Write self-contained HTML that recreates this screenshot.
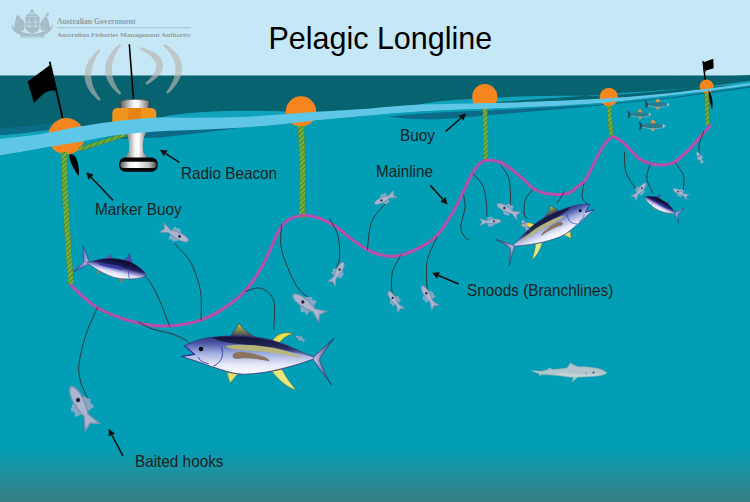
<!DOCTYPE html>
<html><head><meta charset="utf-8"><style>
html,body{margin:0;padding:0;background:#029eb6;overflow:hidden;}
svg{display:block;}
text{font-family:"Liberation Sans",sans-serif;}
</style></head><body>
<svg width="750" height="502" viewBox="0 0 750 502">
<defs>
<pattern id="ropep" patternUnits="userSpaceOnUse" width="3.4" height="3.4" patternTransform="rotate(-45)">
 <rect width="3.4" height="3.4" fill="#6cb640"/><rect width="3.4" height="1" fill="#567a30"/>
</pattern>
<linearGradient id="btm" x1="0" y1="0" x2="0" y2="1">
 <stop offset="0" stop-color="#029eb6"/><stop offset="0.1" stop-color="#029eb6"/>
 <stop offset="0.5" stop-color="#1d92a2"/><stop offset="1" stop-color="#357c81"/>
</linearGradient>
<linearGradient id="metal" x1="0" y1="0" x2="1" y2="0">
 <stop offset="0" stop-color="#5a5a5a"/><stop offset="0.45" stop-color="#f4f4f4"/><stop offset="0.6" stop-color="#ffffff"/><stop offset="1" stop-color="#6a6a6a"/>
</linearGradient>
<linearGradient id="metal2" x1="0" y1="0" x2="1" y2="0">
 <stop offset="0" stop-color="#555"/><stop offset="0.25" stop-color="#eee"/><stop offset="0.45" stop-color="#fff"/><stop offset="0.8" stop-color="#bbb"/><stop offset="1" stop-color="#444"/>
</linearGradient>
<linearGradient id="yfbody" x1="0" y1="0" x2="0" y2="1">
 <stop offset="0" stop-color="#2a3070"/><stop offset="0.2" stop-color="#4a5aa8"/><stop offset="0.45" stop-color="#a0acdf"/><stop offset="0.75" stop-color="#e6e9f8"/><stop offset="1" stop-color="#ffffff"/>
</linearGradient>
<linearGradient id="back" x1="0" y1="0" x2="0" y2="1">
 <stop offset="0" stop-color="#141438"/><stop offset="0.6" stop-color="#1c2050" stop-opacity="0.85"/><stop offset="1" stop-color="#2a3070" stop-opacity="0"/>
</linearGradient>
<linearGradient id="bfbody" x1="0" y1="0" x2="0" y2="1">
 <stop offset="0" stop-color="#060620"/><stop offset="0.38" stop-color="#1e1e60"/><stop offset="0.55" stop-color="#8080c8"/><stop offset="0.72" stop-color="#dcdcf4"/><stop offset="1" stop-color="#ffffff"/>
</linearGradient>
<linearGradient id="dfin" x1="0" y1="0" x2="0" y2="1">
 <stop offset="0" stop-color="#c8d040"/><stop offset="1" stop-color="#283060"/>
</linearGradient>
<linearGradient id="tail" x1="0" y1="0" x2="1" y2="0">
 <stop offset="0" stop-color="#c8c8e8"/><stop offset="1" stop-color="#3a3070"/>
</linearGradient>
<linearGradient id="tail2" x1="0" y1="0" x2="1" y2="0">
 <stop offset="0" stop-color="#c0c0ea"/><stop offset="1" stop-color="#4a4aa6"/>
</linearGradient>
</defs>
<rect x="0" y="0" width="750" height="502" fill="#029eb6"/>
<rect x="0" y="440" width="750" height="62" fill="url(#btm)"/>
<rect x="0" y="0" width="750" height="76" fill="#c6e7f5"/>
<rect x="0" y="75.5" width="750" height="60" fill="#07636f"/>
<path d="M0,120 L750,75 L750,90 L0,160 Z" fill="#07636f"/>
<path d="M0.0,155.5 C6.7,154.3 26.7,150.8 40.0,148.5 C53.3,146.2 66.7,144.1 80.0,141.8 C93.3,139.5 106.7,136.6 120.0,134.8 C133.3,133.0 146.7,132.0 160.0,131.2 C173.3,130.4 186.7,130.4 200.0,129.8 C213.3,129.2 226.7,128.7 240.0,127.8 C253.3,126.9 266.7,125.7 280.0,124.4 C293.3,123.1 305.0,121.5 320.0,120.0 C335.0,118.5 353.3,116.8 370.0,115.4 C386.7,114.0 403.3,112.4 420.0,111.4 C436.7,110.4 453.3,109.9 470.0,109.2 C486.7,108.5 498.3,108.5 520.0,107.5 C541.7,106.5 575.0,105.0 600.0,103.0 C625.0,101.0 645.0,98.5 670.0,95.6 C695.0,92.7 736.7,87.1 750.0,85.4 L750,200 L0,200 Z" fill="#029eb6"/>
<path d="M0.0,128.3 C4.2,128.0 16.7,127.0 25.0,126.3 C33.3,125.5 40.8,124.6 50.0,123.8 C59.2,123.0 75.0,121.9 80.0,121.5 L80,130 L0,142 Z" fill="#0b6c87"/>
<path d="M0.0,135.3 C4.2,134.9 16.7,133.9 25.0,133.0 C33.3,132.1 40.8,131.2 50.0,130.0 C59.2,128.8 75.0,126.7 80.0,126.0 L80,134 L0,146 Z" fill="#12a3bc"/>
<path d="M150.0,120.0 C153.3,119.2 161.7,116.8 170.0,115.5 C178.3,114.2 188.3,113.0 200.0,112.2 C211.7,111.4 226.7,110.9 240.0,110.7 C253.3,110.5 268.3,110.9 280.0,111.2 C291.7,111.5 305.0,112.4 310.0,112.6 L310,118 L150,124 Z" fill="#12a3bc"/>
<path d="M412.0,106.0 C416.7,105.2 428.7,102.5 440.0,101.3 C451.3,100.0 466.7,99.3 480.0,98.5 C493.3,97.7 506.7,97.0 520.0,96.5 C533.3,96.0 546.7,96.0 560.0,95.8 C573.3,95.6 586.7,96.1 600.0,95.6 C613.3,95.1 628.3,93.9 640.0,93.0 C651.7,92.1 660.0,91.2 670.0,90.3 C680.0,89.3 686.7,88.8 700.0,87.3 C713.3,85.8 741.7,82.0 750.0,81.0 L750,84 L412,108 Z" fill="#12a3bc"/>
<path d="M120,132 L160,128 L200,126 L240,124 L240,127.8 L200,133 L160,137.5 L120,139 Z" fill="#0b6a88"/>
<path d="M388,116.5 C410,114 430,113 450,112 C480,111 505,110 520,109 L600,104.5 L670,97.4 L750,86.2 L750,87.8 L670,98.6 L600,105.6 L520,112.4 C490,115 460,118 440,119.2 C420,119.6 405,119.2 388,116.5 Z" fill="#0b6a88"/>
<path d="M98.7,49.3 L96.5,51.3 L94.6,53.3 L92.7,55.4 L91.1,57.4 L89.6,59.6 L88.2,61.7 L87.1,64.0 L86.2,66.2 L85.4,68.5 L84.9,70.8 L84.6,73.2 L84.5,75.5 L84.6,77.9 L85.0,80.2 L85.6,82.5 L86.3,84.7 L87.3,86.9 L88.5,89.1 L89.9,91.2 L91.4,93.2 L93.2,95.2 L95.0,97.1 L97.0,98.9 L99.2,100.8 L100.8,99.2 L99.1,97.1 L97.6,94.9 L96.3,92.8 L95.2,90.7 L94.2,88.7 L93.4,86.7 L92.7,84.7 L92.2,82.8 L91.8,80.9 L91.5,79.1 L91.3,77.3 L91.3,75.5 L91.3,73.6 L91.4,71.8 L91.7,69.9 L92.1,68.0 L92.6,66.0 L93.2,64.0 L94.0,61.9 L94.9,59.8 L96.0,57.6 L97.3,55.3 L98.7,53.1 L100.3,50.7 Z" fill="#b8b4b0" opacity="0.66"/>
<path d="M119.7,43.7 L117.5,45.7 L115.5,47.7 L113.6,49.7 L111.9,51.8 L110.4,53.8 L109.0,56.0 L107.8,58.2 L106.8,60.4 L106.1,62.7 L105.5,65.0 L105.2,67.3 L105.0,69.6 L105.2,72.0 L105.5,74.3 L106.1,76.6 L106.9,78.8 L107.8,81.0 L109.0,83.1 L110.4,85.2 L111.9,87.2 L113.6,89.2 L115.5,91.1 L117.5,92.9 L119.7,94.8 L121.3,93.2 L119.6,91.1 L118.1,88.9 L116.8,86.8 L115.7,84.7 L114.7,82.7 L113.9,80.7 L113.2,78.8 L112.7,76.9 L112.3,75.0 L112.1,73.2 L111.9,71.4 L111.9,69.6 L111.9,67.8 L112.1,66.0 L112.3,64.2 L112.7,62.3 L113.3,60.3 L113.9,58.3 L114.7,56.3 L115.7,54.2 L116.8,52.0 L118.1,49.8 L119.6,47.5 L121.3,45.3 Z" fill="#b8b4b0" opacity="0.66"/>
<path d="M139.6,49.0 L142.3,50.5 L144.8,51.9 L147.0,53.4 L149.0,54.8 L150.7,56.2 L152.1,57.6 L153.3,58.9 L154.3,60.2 L155.0,61.4 L155.6,62.5 L155.9,63.6 L156.1,64.6 L156.3,65.6 L156.2,66.6 L156.1,67.8 L155.8,69.0 L155.3,70.4 L154.6,72.0 L153.7,73.6 L152.5,75.4 L151.1,77.2 L149.4,79.1 L147.5,81.1 L145.3,83.1 L146.7,84.9 L149.3,83.3 L151.7,81.7 L153.8,80.0 L155.8,78.4 L157.6,76.7 L159.1,75.0 L160.5,73.3 L161.5,71.4 L162.3,69.5 L162.8,67.5 L163.0,65.5 L162.9,63.4 L162.3,61.5 L161.5,59.6 L160.4,57.8 L159.0,56.2 L157.4,54.8 L155.6,53.4 L153.6,52.1 L151.3,51.0 L148.9,49.9 L146.3,48.9 L143.4,47.9 L140.4,47.0 Z" fill="#b8b4b0" opacity="0.66"/>
<path d="M163.4,45.9 L165.4,47.8 L167.2,49.7 L168.8,51.5 L170.2,53.4 L171.4,55.2 L172.4,57.0 L173.3,58.8 L174.0,60.5 L174.5,62.2 L174.9,63.9 L175.2,65.5 L175.4,67.2 L175.4,68.9 L175.3,70.7 L175.1,72.5 L174.8,74.4 L174.3,76.3 L173.7,78.4 L172.9,80.5 L171.9,82.7 L170.8,85.0 L169.4,87.4 L167.9,89.8 L166.2,92.3 L167.8,93.7 L170.1,91.6 L172.2,89.4 L174.1,87.2 L175.8,85.1 L177.3,82.9 L178.7,80.6 L179.8,78.4 L180.7,76.1 L181.5,73.8 L181.9,71.4 L182.2,69.1 L182.1,66.8 L181.9,64.5 L181.4,62.2 L180.6,60.1 L179.6,57.9 L178.4,55.9 L177.0,54.0 L175.3,52.1 L173.5,50.4 L171.6,48.7 L169.4,47.1 L167.1,45.6 L164.6,44.1 Z" fill="#b8b4b0" opacity="0.66"/>
<line x1="49.7" y1="61.7" x2="62.6" y2="118" stroke="#000" stroke-width="1.8"/>
<path d="M27.7,81.5 L50,65 L55.6,90.6 C50,90 45,92 42,95 L34,103.1 Z" fill="#000"/>
<circle cx="66.4" cy="136.3" r="18.2" fill="#f5861f"/>
<circle cx="301" cy="111.5" r="15.2" fill="#f5861f"/>
<circle cx="484.8" cy="96.7" r="12.6" fill="#f5861f"/>
<circle cx="608.8" cy="97" r="9.2" fill="#f5861f"/>
<line x1="703" y1="61" x2="706" y2="86" stroke="#000" stroke-width="1.5"/>
<path d="M702.8,62.5 L713.3,58.8 L713.7,68.2 L706.3,70.4 L704,73 Z" fill="#000"/>
<circle cx="706.6" cy="86.3" r="6.9" fill="#f5861f"/>
<path d="M79,149.5 L126,134.5" stroke="#557f30" stroke-width="4"/>
<path d="M79,149.5 L126,134.5" stroke="url(#ropep)" stroke-width="3.2"/>
<line x1="129.3" y1="44.3" x2="133.6" y2="101" stroke="#000" stroke-width="1.6"/>
<path d="M120,100.5 Q134.5,98 149.5,100.5 L148,110 L121,110 Z" fill="url(#metal)" stroke="#333" stroke-width="0.6"/>
<rect x="112.3" y="108" width="44" height="23.5" rx="5" fill="#f0941e"/>
<rect x="128" y="108" width="13" height="23.5" fill="#e07d10" opacity="0.7"/>
<path d="M125.5,131 L146.5,131 C143,138 142,146 143.5,153 L148,158 L124,158 L128.5,153 C130,146 129,138 125.5,131 Z" fill="url(#metal)"/>
<rect x="119.2" y="157.6" width="38.4" height="14.2" rx="6" fill="#050505"/>
<rect x="120.2" y="161.8" width="36.4" height="6.2" rx="3" fill="url(#metal2)"/>
<path d="M0.0,138.7 C6.7,137.9 26.7,136.2 40.0,134.2 C53.3,132.2 66.7,128.7 80.0,126.5 C93.3,124.3 106.7,122.3 120.0,120.8 C133.3,119.3 146.7,118.1 160.0,117.6 C173.3,117.1 186.7,117.9 200.0,117.8 C213.3,117.7 226.7,117.5 240.0,117.0 C253.3,116.5 266.7,115.5 280.0,114.6 C293.3,113.7 305.0,112.6 320.0,111.6 C335.0,110.6 353.3,109.6 370.0,108.4 C386.7,107.2 403.3,105.4 420.0,104.6 C436.7,103.8 453.3,103.8 470.0,103.4 C486.7,103.0 498.3,103.0 520.0,102.2 C541.7,101.4 575.0,100.3 600.0,98.8 C625.0,97.3 645.0,95.6 670.0,93.0 C695.0,90.4 736.7,84.7 750.0,83.0 L750.0,85.4 C736.7,87.1 695.0,92.7 670.0,95.6 C645.0,98.5 625.0,101.0 600.0,103.0 C575.0,105.0 541.7,106.5 520.0,107.5 C498.3,108.5 486.7,108.5 470.0,109.2 C453.3,109.9 436.7,110.4 420.0,111.4 C403.3,112.4 386.7,114.0 370.0,115.4 C353.3,116.8 335.0,118.5 320.0,120.0 C305.0,121.5 293.3,123.1 280.0,124.4 C266.7,125.7 253.3,126.9 240.0,127.8 C226.7,128.7 213.3,129.2 200.0,129.8 C186.7,130.4 173.3,130.4 160.0,131.2 C146.7,132.0 133.3,133.0 120.0,134.8 C106.7,136.6 93.3,139.5 80.0,141.8 C66.7,144.1 53.3,146.2 40.0,148.5 C26.7,150.8 6.7,154.3 0.0,155.5 Z" fill="#5ec7e7"/>
<path d="M64.0,152.0 C64.2,160.0 64.8,183.7 65.5,200.0 C66.2,216.3 67.6,236.0 68.5,250.0 C69.4,264.0 70.6,278.3 71.0,284.0" fill="none" stroke="#557f30" stroke-width="6.0" stroke-linecap="butt"/><path d="M64.0,152.0 C64.2,160.0 64.8,183.7 65.5,200.0 C66.2,216.3 67.6,236.0 68.5,250.0 C69.4,264.0 70.6,278.3 71.0,284.0" fill="none" stroke="url(#ropep)" stroke-width="5.2" stroke-linecap="butt"/>
<path d="M301.0,126.0 C301.2,133.3 302.3,154.7 302.5,170.0 C302.7,185.3 302.1,210.0 302.0,218.0" fill="none" stroke="#557f30" stroke-width="6.2" stroke-linecap="butt"/><path d="M301.0,126.0 C301.2,133.3 302.3,154.7 302.5,170.0 C302.7,185.3 302.1,210.0 302.0,218.0" fill="none" stroke="url(#ropep)" stroke-width="5.4" stroke-linecap="butt"/>
<path d="M485.0,109.0 C485.1,113.3 485.4,126.2 485.5,135.0 C485.6,143.8 485.8,157.5 485.8,162.0" fill="none" stroke="#557f30" stroke-width="5.0" stroke-linecap="butt"/><path d="M485.0,109.0 C485.1,113.3 485.4,126.2 485.5,135.0 C485.6,143.8 485.8,157.5 485.8,162.0" fill="none" stroke="url(#ropep)" stroke-width="4.2" stroke-linecap="butt"/>
<path d="M609.0,106.0 C609.2,108.3 609.6,115.0 610.0,120.0 C610.4,125.0 611.2,133.3 611.5,136.0" fill="none" stroke="#557f30" stroke-width="4.6" stroke-linecap="butt"/><path d="M609.0,106.0 C609.2,108.3 609.6,115.0 610.0,120.0 C610.4,125.0 611.2,133.3 611.5,136.0" fill="none" stroke="url(#ropep)" stroke-width="3.8" stroke-linecap="butt"/>
<path d="M706.5,93.0 C706.6,95.8 706.8,104.7 707.0,110.0 C707.2,115.3 707.4,122.5 707.5,125.0" fill="none" stroke="#557f30" stroke-width="4.2" stroke-linecap="butt"/><path d="M706.5,93.0 C706.6,95.8 706.8,104.7 707.0,110.0 C707.2,115.3 707.4,122.5 707.5,125.0" fill="none" stroke="url(#ropep)" stroke-width="3.4" stroke-linecap="butt"/>
<path d="M69.3,154.5 C73.5,153.5 76.5,157 77.8,163 C79,168.5 79.2,173 78.6,176 C75.5,172 71.5,165 69.8,159 Z" fill="#000"/>
<path d="M708.5,90 C712,95 713.5,102 712,110 C710.5,104 709,98 708.5,90 Z" fill="#000"/>
<path d="M70.0,284.3 C74.3,288.1 85.7,300.8 96.0,307.0 C106.3,313.2 120.0,318.2 132.0,321.4 C144.0,324.6 156.0,326.4 168.0,326.0 C180.0,325.6 192.0,323.9 204.0,318.9 C216.0,313.9 230.4,304.6 240.0,296.0 C249.6,287.4 255.0,278.5 261.6,267.4 C268.2,256.3 274.8,237.7 279.6,229.6 C284.4,221.5 286.2,221.2 290.4,218.8 C294.6,216.4 300.2,215.4 304.8,215.2 C309.4,215.0 312.8,215.9 318.0,217.8 C323.2,219.7 330.0,222.9 336.0,226.8 C342.0,230.7 348.0,236.8 354.0,241.0 C360.0,245.2 365.4,249.4 372.0,252.0 C378.6,254.6 386.4,256.6 393.6,256.3 C400.8,256.0 407.8,253.4 415.0,250.0 C422.2,246.6 430.2,242.7 436.8,235.8 C443.4,228.9 449.7,217.6 454.8,208.8 C459.9,200.0 464.1,189.6 467.5,183.0 C470.9,176.4 472.5,172.6 475.0,169.0 C477.5,165.4 479.9,163.0 482.4,161.5 C484.9,160.0 486.9,160.0 490.0,160.2 C493.1,160.4 497.3,160.9 501.0,162.5 C504.7,164.1 508.5,167.2 512.3,170.0 C516.0,172.8 519.8,176.1 523.5,179.3 C527.2,182.6 531.0,187.2 534.7,189.5 C538.4,191.8 542.2,192.5 545.9,193.3 C549.6,194.2 553.3,194.6 557.0,194.6 C560.7,194.6 564.8,194.7 568.3,193.3 C571.8,191.9 575.5,188.1 578.2,186.1 C580.9,184.1 582.5,184.1 584.6,181.3 C586.7,178.5 588.9,173.5 591.0,169.4 C593.1,165.3 595.2,160.6 597.3,156.6 C599.4,152.6 601.6,148.6 603.7,145.5 C605.8,142.4 608.1,139.7 610.0,138.3 C611.9,136.9 612.7,136.5 614.8,137.2 C616.9,137.9 620.1,140.1 622.8,142.3 C625.5,144.5 628.0,147.5 630.8,150.3 C633.6,153.1 636.3,156.7 639.6,158.9 C642.9,161.1 647.0,162.7 650.7,163.7 C654.4,164.7 658.1,165.1 661.8,165.0 C665.5,164.9 669.5,164.5 673.0,162.9 C676.5,161.3 679.0,158.8 682.5,155.7 C686.0,152.6 690.2,148.3 693.7,144.6 C697.2,140.9 700.3,136.7 703.2,133.4 C706.1,130.1 709.9,126.2 711.2,124.7" fill="none" stroke="#b74fab" stroke-width="3.1"/>
<path d="M97.6,307.3 C95.8,311.6 89.6,323.6 86.5,333.0 C83.4,342.4 79.9,355.4 79.0,363.7 C78.1,372.0 79.3,376.7 81.0,383.0 C82.7,389.3 87.9,398.2 89.3,401.3" fill="none" stroke="#3a2a2a" stroke-width="0.9"/>
<path d="M145.0,276.0 C146.2,277.5 149.4,280.6 152.0,285.0 C154.6,289.4 157.4,295.3 160.4,302.3 C163.4,309.3 168.4,322.9 170.0,327.0" fill="none" stroke="#3a2a2a" stroke-width="0.9"/>
<path d="M138.0,321.8 C140.3,323.0 146.3,326.8 152.0,328.8 C157.7,330.8 166.4,332.1 172.0,334.0 C177.6,335.9 182.3,338.1 185.5,340.0 C188.7,341.9 190.1,344.6 191.0,345.5" fill="none" stroke="#3a2a2a" stroke-width="0.9"/>
<path d="M174.4,243.7 C177.2,246.9 186.7,254.8 191.0,262.8 C195.3,270.8 198.8,282.0 200.5,291.5 C202.2,301.0 200.9,315.2 201.0,320.0" fill="none" stroke="#3a2a2a" stroke-width="0.9"/>
<path d="M245.0,291.5 C247.7,291.0 256.2,286.7 261.0,288.3 C265.8,289.9 271.7,294.1 273.8,301.0 C275.9,307.9 273.8,324.9 273.8,329.7" fill="none" stroke="#3a2a2a" stroke-width="0.9"/>
<path d="M281.7,224.6 C281.7,228.8 279.3,239.9 281.7,250.0 C284.1,260.1 291.2,276.8 296.0,285.0 C300.8,293.2 308.0,297.0 310.4,299.4" fill="none" stroke="#3a2a2a" stroke-width="0.9"/>
<path d="M329.8,219.0 C331.2,221.8 336.4,229.2 338.0,235.7 C339.6,242.2 339.9,252.4 339.5,258.0 C339.1,263.6 336.0,267.3 335.3,269.2" fill="none" stroke="#3a2a2a" stroke-width="0.9"/>
<path d="M385.5,203.7 C383.2,206.7 374.6,214.1 371.6,221.8 C368.6,229.5 368.1,245.0 367.4,249.7" fill="none" stroke="#3a2a2a" stroke-width="0.9"/>
<path d="M400.8,255.3 C399.4,258.1 394.0,266.0 392.5,272.0 C391.0,278.0 391.3,287.3 392.0,291.5 C392.7,295.7 395.9,296.1 396.7,297.0" fill="none" stroke="#3a2a2a" stroke-width="0.9"/>
<path d="M437.0,237.0 C435.4,241.0 428.9,252.2 427.3,260.8 C425.7,269.4 426.6,283.1 427.3,288.7 C428.0,294.3 430.8,293.4 431.5,294.3" fill="none" stroke="#3a2a2a" stroke-width="0.9"/>
<path d="M463.6,195.3 C463.8,197.4 465.5,202.8 465.0,207.9 C464.5,213.0 461.0,221.3 460.8,226.0 C460.6,230.7 462.6,233.7 464.0,236.0 C465.4,238.3 468.2,239.3 469.1,240.0" fill="none" stroke="#3a2a2a" stroke-width="0.9"/>
<path d="M473.0,173.7 C474.6,175.6 480.2,180.6 482.4,184.9 C484.6,189.2 485.2,194.5 486.0,199.8 C486.8,205.1 486.8,213.8 487.0,216.6" fill="none" stroke="#3a2a2a" stroke-width="0.9"/>
<path d="M500.0,164.3 C501.4,166.5 506.8,172.7 508.5,177.4 C510.2,182.1 510.1,187.5 510.4,192.3 C510.7,197.1 510.4,204.0 510.4,206.3" fill="none" stroke="#3a2a2a" stroke-width="0.9"/>
<path d="M532.8,189.5 C531.5,191.2 526.7,195.6 525.3,199.8 C523.9,204.0 523.9,211.6 524.4,214.7 C524.9,217.8 527.4,217.9 528.0,218.5" fill="none" stroke="#3a2a2a" stroke-width="0.9"/>
<path d="M564.5,191.4 C563.2,193.4 558.2,201.5 557.0,203.5" fill="none" stroke="#3a2a2a" stroke-width="0.9"/>
<path d="M584.0,183.0 C583.7,185.5 581.5,194.3 582.3,198.0 C583.1,201.7 587.7,204.2 588.8,205.4" fill="none" stroke="#3a2a2a" stroke-width="0.9"/>
<path d="M624.4,151.7 C624.7,155.1 624.1,166.3 626.0,172.4 C627.9,178.5 634.0,185.7 635.6,188.4" fill="none" stroke="#3a2a2a" stroke-width="0.9"/>
<path d="M650.0,164.4 C649.5,166.8 646.3,174.0 646.8,178.8 C647.3,183.6 652.0,190.6 653.0,193.0" fill="none" stroke="#3a2a2a" stroke-width="0.9"/>
<path d="M675.4,162.9 C676.7,165.0 682.1,171.1 683.4,175.6 C684.7,180.1 683.4,187.6 683.4,190.0" fill="none" stroke="#3a2a2a" stroke-width="0.9"/>
<path d="M704.0,131.0 C703.2,133.1 700.1,140.0 699.3,143.7 C698.5,147.4 699.3,151.7 699.3,153.3" fill="none" stroke="#3a2a2a" stroke-width="0.9"/>
<g transform="translate(181.3,356.8) rotate(0.35) scale(0.998,0.998)"><path d="M48,-19 L57.7,-34 C62,-28 68,-23 75,-19.5 Z" fill="url(#dfin)" stroke="#2a2a60" stroke-width="0.6"/><path d="M91,-16 C95,-24 104,-26 112,-24 C105,-22 100,-18 98,-14 Z" fill="#e8e050" stroke="#806020" stroke-width="0.5"/><path d="M45.7,15.5 L49,26 L57,16.5 Z" fill="#e0e070" stroke="#807020" stroke-width="0.5"/><path d="M91,14 C97,22 106,30 115,32.5 C110,26 104,19 101,12 Z" fill="#e8e880" stroke="#807020" stroke-width="0.5"/><path d="M132,0 L153.1,-19.8 C146,-10 140,-3 138.4,2.5 C141,10 146,20 150.7,27.4 L132,2 Z" fill="url(#tail)" stroke="#302a60" stroke-width="0.6"/><path d="M3.1,-11.1 C5.2,-12.0 11.6,-15.1 16.0,-16.5 C20.4,-17.9 23.3,-18.8 29.6,-19.6 C35.9,-20.4 45.4,-21.2 53.7,-21.2 C62.0,-21.2 71.4,-20.8 79.4,-19.5 C87.5,-18.2 94.5,-16.1 102.0,-13.5 C109.5,-10.8 119.5,-5.9 124.7,-3.6 C129.9,-1.3 133.0,-1.1 133.0,0.2 C133.0,1.5 129.9,2.4 124.7,4.2 C119.5,6.0 109.5,9.1 102.0,11.0 C94.5,12.9 87.0,14.7 79.4,15.6 C71.9,16.6 64.3,17.5 56.7,16.7 C49.1,15.9 40.8,12.8 34.0,10.8 C27.2,8.8 21.7,6.5 16.0,4.6 C10.3,2.7 2.7,0.5 0.0,-0.3 L13.4,-2.6 Z" fill="url(#yfbody)" stroke="#3a2a70" stroke-width="0.8"/><path d="M30,-19.5 C50,-21.6 70,-21 90,-17 C105,-13 118,-7 130,-0.5 C112,-5 92,-10 70,-12 C55,-13 42,-14 30,-19.5 Z" fill="url(#back)"/><path d="M44,-11 C60,-14 85,-12 100,-8 C110,-5 117,-2 123,1 C110,-2 90,-5.5 70,-6.5 C55,-7.5 48,-7.5 44,-11 Z" fill="#b8b676" opacity="0.95"/><path d="M52,-3 C55,-7 65,-6 78,-2 C85,0 89,2 88,4 C78,2 66,0 58,1.5 C53,2.5 50,0 52,-3 Z" fill="#8a7560"/><path d="M40.3,-10.5 C41.5,-5 41.5,0 40,2 C38,6 35,8 32,9" fill="none" stroke="#3434a8" stroke-width="0.9"/><path d="M17,0.1 C18,3 20,5.2 27.7,6.8" fill="none" stroke="#3434a8" stroke-width="0.9"/><circle cx="19.7" cy="-8" r="2.2" fill="#000"/><path d="M3.1,-11.1 L13.4,-2.6 L0,-0.3" fill="none" stroke="#3434a8" stroke-width="1.1"/></g>
<g transform="translate(594.4,210) rotate(156.44) scale(0.668,-0.634)"><path d="M48,-19 L57.7,-34 C62,-28 68,-23 75,-19.5 Z" fill="url(#dfin)" stroke="#2a2a60" stroke-width="0.6"/><path d="M91,-16 C95,-24 104,-26 112,-24 C105,-22 100,-18 98,-14 Z" fill="#e8e050" stroke="#806020" stroke-width="0.5"/><path d="M45.7,15.5 L49,26 L57,16.5 Z" fill="#e0e070" stroke="#807020" stroke-width="0.5"/><path d="M91,14 C97,22 106,30 115,32.5 C110,26 104,19 101,12 Z" fill="#e8e880" stroke="#807020" stroke-width="0.5"/><path d="M132,0 L153.1,-19.8 C146,-10 140,-3 138.4,2.5 C141,10 146,20 150.7,27.4 L132,2 Z" fill="url(#tail)" stroke="#302a60" stroke-width="0.6"/><path d="M3.1,-11.1 C5.2,-12.0 11.6,-15.1 16.0,-16.5 C20.4,-17.9 23.3,-18.8 29.6,-19.6 C35.9,-20.4 45.4,-21.2 53.7,-21.2 C62.0,-21.2 71.4,-20.8 79.4,-19.5 C87.5,-18.2 94.5,-16.1 102.0,-13.5 C109.5,-10.8 119.5,-5.9 124.7,-3.6 C129.9,-1.3 133.0,-1.1 133.0,0.2 C133.0,1.5 129.9,2.4 124.7,4.2 C119.5,6.0 109.5,9.1 102.0,11.0 C94.5,12.9 87.0,14.7 79.4,15.6 C71.9,16.6 64.3,17.5 56.7,16.7 C49.1,15.9 40.8,12.8 34.0,10.8 C27.2,8.8 21.7,6.5 16.0,4.6 C10.3,2.7 2.7,0.5 0.0,-0.3 L13.4,-2.6 Z" fill="url(#yfbody)" stroke="#3a2a70" stroke-width="0.8"/><path d="M30,-19.5 C50,-21.6 70,-21 90,-17 C105,-13 118,-7 130,-0.5 C112,-5 92,-10 70,-12 C55,-13 42,-14 30,-19.5 Z" fill="url(#back)"/><path d="M44,-11 C60,-14 85,-12 100,-8 C110,-5 117,-2 123,1 C110,-2 90,-5.5 70,-6.5 C55,-7.5 48,-7.5 44,-11 Z" fill="#b8b676" opacity="0.95"/><path d="M52,-3 C55,-7 65,-6 78,-2 C85,0 89,2 88,4 C78,2 66,0 58,1.5 C53,2.5 50,0 52,-3 Z" fill="#8a7560"/><path d="M40.3,-10.5 C41.5,-5 41.5,0 40,2 C38,6 35,8 32,9" fill="none" stroke="#3434a8" stroke-width="0.9"/><path d="M17,0.1 C18,3 20,5.2 27.7,6.8" fill="none" stroke="#3434a8" stroke-width="0.9"/><circle cx="19.7" cy="-8" r="2.2" fill="#000"/><path d="M3.1,-11.1 L13.4,-2.6 L0,-0.3" fill="none" stroke="#3434a8" stroke-width="1.1"/></g>
<g transform="translate(145.6,276) rotate(-166.79) scale(0.454,-0.509)"><path d="M34,-18 L47,-36 C46,-28 50,-22 58,-19 Z" fill="#4a4aa8" stroke="#302a70" stroke-width="0.6"/><path d="M80,-17 L86,-27 L93,-15 Z" fill="#5a5ab4" stroke="#302a70" stroke-width="0.5"/><path d="M45,15 L50,24 L56,16 Z" fill="#a07840"/><path d="M95,10 L104,19 L108,8 Z" fill="#a07840"/><path d="M128,-1.5 L149,-30 C147,-18 143,-8 140,0 C145,8 151,15 156,24 L128,2.5 Z" fill="url(#tail2)" stroke="#302a70" stroke-width="1"/><path d="M0.0,-0.5 C-1.6,-2.3 0.1,-2.8 2.0,-4.5 C3.9,-6.2 6.1,-8.3 11.4,-10.7 C16.7,-13.1 26.4,-17.1 34.0,-18.7 C41.5,-20.3 49.1,-20.2 56.7,-20.2 C64.3,-20.2 71.9,-19.9 79.4,-18.7 C87.0,-17.5 94.5,-15.7 102.0,-13.0 C109.5,-10.3 119.5,-5.1 124.7,-2.8 C129.9,-0.5 133.0,-0.5 133.0,0.6 C133.0,1.7 129.9,2.3 124.7,4.0 C119.5,5.7 109.5,8.9 102.0,10.8 C94.5,12.7 87.0,14.5 79.4,15.4 C71.9,16.4 64.3,16.9 56.7,16.5 C49.1,16.1 41.5,14.7 34.0,13.0 C26.4,11.3 17.1,8.6 11.4,6.3 C5.7,4.0 1.6,1.3 0.0,-0.5 Z" fill="url(#bfbody)" stroke="#3a2a70" stroke-width="1"/><path d="M50,-6 C70,-9 95,-6 110,-2 C100,1 80,0 54,-1 Z" fill="#3838a0"/><path d="M36,-16 C40,-7 40,4 33,12" fill="none" stroke="#3030a0" stroke-width="1.2"/></g>
<g transform="translate(644.5,197.5) rotate(27.07) scale(0.268,0.289)"><path d="M34,-18 L47,-36 C46,-28 50,-22 58,-19 Z" fill="#4a4aa8" stroke="#302a70" stroke-width="0.6"/><path d="M80,-17 L86,-27 L93,-15 Z" fill="#5a5ab4" stroke="#302a70" stroke-width="0.5"/><path d="M45,15 L50,24 L56,16 Z" fill="#a07840"/><path d="M95,10 L104,19 L108,8 Z" fill="#a07840"/><path d="M128,-1.5 L149,-30 C147,-18 143,-8 140,0 C145,8 151,15 156,24 L128,2.5 Z" fill="url(#tail2)" stroke="#302a70" stroke-width="1"/><path d="M0.0,-0.5 C-1.6,-2.3 0.1,-2.8 2.0,-4.5 C3.9,-6.2 6.1,-8.3 11.4,-10.7 C16.7,-13.1 26.4,-17.1 34.0,-18.7 C41.5,-20.3 49.1,-20.2 56.7,-20.2 C64.3,-20.2 71.9,-19.9 79.4,-18.7 C87.0,-17.5 94.5,-15.7 102.0,-13.0 C109.5,-10.3 119.5,-5.1 124.7,-2.8 C129.9,-0.5 133.0,-0.5 133.0,0.6 C133.0,1.7 129.9,2.3 124.7,4.0 C119.5,5.7 109.5,8.9 102.0,10.8 C94.5,12.7 87.0,14.5 79.4,15.4 C71.9,16.4 64.3,16.9 56.7,16.5 C49.1,16.1 41.5,14.7 34.0,13.0 C26.4,11.3 17.1,8.6 11.4,6.3 C5.7,4.0 1.6,1.3 0.0,-0.5 Z" fill="url(#bfbody)" stroke="#3a2a70" stroke-width="1"/><path d="M50,-6 C70,-9 95,-6 110,-2 C100,1 80,0 54,-1 Z" fill="#3838a0"/><path d="M36,-16 C40,-7 40,4 33,12" fill="none" stroke="#3030a0" stroke-width="1.2"/></g>
<g transform="translate(188.5,241) rotate(-153) scale(1.25)"><path d="M7,-3 L11,-6.2 L12,-5 L15,-6 L15.5,-2 Z M8,3 L11,6 L13,4.6 L15,5.6 L15.5,2 Z" fill="#a2accb" opacity="0.8"/><path d="M0,0 C1.5,-3 9,-3.6 17,-1.2 L24,-4.2 L21.5,0 L24,4.2 L17,1.2 C9,3.6 1.5,3 0,0 Z" fill="#abb5cf" stroke="#8290b0" stroke-width="0.7"/><circle cx="8" cy="0" r="1.1" fill="#223"/></g>
<g transform="translate(292.9,294.6) rotate(36.7) scale(1.54)"><path d="M7,-3 L11,-6.2 L12,-5 L15,-6 L15.5,-2 Z M8,3 L11,6 L13,4.6 L15,5.6 L15.5,2 Z" fill="#a2accb" opacity="0.8"/><path d="M0,0 C1.5,-3 9,-3.6 17,-1.2 L24,-4.2 L21.5,0 L24,4.2 L17,1.2 C9,3.6 1.5,3 0,0 Z" fill="#abb5cf" stroke="#8290b0" stroke-width="0.7"/><circle cx="8" cy="0" r="1.1" fill="#223"/></g>
<g transform="translate(343.7,262.2) rotate(119.7) scale(1.04)"><path d="M7,-3 L11,-6.2 L12,-5 L15,-6 L15.5,-2 Z M8,3 L11,6 L13,4.6 L15,5.6 L15.5,2 Z" fill="#a2accb" opacity="0.8"/><path d="M0,0 C1.5,-3 9,-3.6 17,-1.2 L24,-4.2 L21.5,0 L24,4.2 L17,1.2 C9,3.6 1.5,3 0,0 Z" fill="#abb5cf" stroke="#8290b0" stroke-width="0.7"/><circle cx="8" cy="0" r="1.1" fill="#223"/></g>
<g transform="translate(374.4,203.7) rotate(-24.9) scale(0.96)"><path d="M7,-3 L11,-6.2 L12,-5 L15,-6 L15.5,-2 Z M8,3 L11,6 L13,4.6 L15,5.6 L15.5,2 Z" fill="#a2accb" opacity="0.8"/><path d="M0,0 C1.5,-3 9,-3.6 17,-1.2 L24,-4.2 L21.5,0 L24,4.2 L17,1.2 C9,3.6 1.5,3 0,0 Z" fill="#abb5cf" stroke="#8290b0" stroke-width="0.7"/><circle cx="8" cy="0" r="1.1" fill="#223"/></g>
<g transform="translate(388.3,291.5) rotate(55.4) scale(0.96)"><path d="M7,-3 L11,-6.2 L12,-5 L15,-6 L15.5,-2 Z M8,3 L11,6 L13,4.6 L15,5.6 L15.5,2 Z" fill="#a2accb" opacity="0.8"/><path d="M0,0 C1.5,-3 9,-3.6 17,-1.2 L24,-4.2 L21.5,0 L24,4.2 L17,1.2 C9,3.6 1.5,3 0,0 Z" fill="#abb5cf" stroke="#8290b0" stroke-width="0.7"/><circle cx="8" cy="0" r="1.1" fill="#223"/></g>
<g transform="translate(421.7,285.9) rotate(57.9) scale(1.08)"><path d="M7,-3 L11,-6.2 L12,-5 L15,-6 L15.5,-2 Z M8,3 L11,6 L13,4.6 L15,5.6 L15.5,2 Z" fill="#a2accb" opacity="0.8"/><path d="M0,0 C1.5,-3 9,-3.6 17,-1.2 L24,-4.2 L21.5,0 L24,4.2 L17,1.2 C9,3.6 1.5,3 0,0 Z" fill="#abb5cf" stroke="#8290b0" stroke-width="0.7"/><circle cx="8" cy="0" r="1.1" fill="#223"/></g>
<g transform="translate(70.8,386.5) rotate(62) scale(1.92)"><path d="M7,-3 L11,-6.2 L12,-5 L15,-6 L15.5,-2 Z M8,3 L11,6 L13,4.6 L15,5.6 L15.5,2 Z" fill="#a2accb" opacity="0.8"/><path d="M0,0 C1.5,-3 9,-3.6 17,-1.2 L24,-4.2 L21.5,0 L24,4.2 L17,1.2 C9,3.6 1.5,3 0,0 Z" fill="#abb5cf" stroke="#8290b0" stroke-width="0.7"/><circle cx="8" cy="0" r="1.1" fill="#223"/></g>
<g transform="translate(501,221) rotate(177) scale(0.88)"><path d="M7,-3 L11,-6.2 L12,-5 L15,-6 L15.5,-2 Z M8,3 L11,6 L13,4.6 L15,5.6 L15.5,2 Z" fill="#a2accb" opacity="0.8"/><path d="M0,0 C1.5,-3 9,-3.6 17,-1.2 L24,-4.2 L21.5,0 L24,4.2 L17,1.2 C9,3.6 1.5,3 0,0 Z" fill="#abb5cf" stroke="#8290b0" stroke-width="0.7"/><circle cx="8" cy="0" r="1.1" fill="#223"/></g>
<g transform="translate(497,204) rotate(28.6) scale(1.04)"><path d="M7,-3 L11,-6.2 L12,-5 L15,-6 L15.5,-2 Z M8,3 L11,6 L13,4.6 L15,5.6 L15.5,2 Z" fill="#a2accb" opacity="0.8"/><path d="M0,0 C1.5,-3 9,-3.6 17,-1.2 L24,-4.2 L21.5,0 L24,4.2 L17,1.2 C9,3.6 1.5,3 0,0 Z" fill="#abb5cf" stroke="#8290b0" stroke-width="0.7"/><circle cx="8" cy="0" r="1.1" fill="#223"/></g>
<g transform="translate(646,183) rotate(129) scale(0.83)"><path d="M7,-3 L11,-6.2 L12,-5 L15,-6 L15.5,-2 Z M8,3 L11,6 L13,4.6 L15,5.6 L15.5,2 Z" fill="#a2accb" opacity="0.8"/><path d="M0,0 C1.5,-3 9,-3.6 17,-1.2 L24,-4.2 L21.5,0 L24,4.2 L17,1.2 C9,3.6 1.5,3 0,0 Z" fill="#abb5cf" stroke="#8290b0" stroke-width="0.7"/><circle cx="8" cy="0" r="1.1" fill="#223"/></g>
<g transform="translate(673,189) rotate(28) scale(0.71)"><path d="M7,-3 L11,-6.2 L12,-5 L15,-6 L15.5,-2 Z M8,3 L11,6 L13,4.6 L15,5.6 L15.5,2 Z" fill="#a2accb" opacity="0.8"/><path d="M0,0 C1.5,-3 9,-3.6 17,-1.2 L24,-4.2 L21.5,0 L24,4.2 L17,1.2 C9,3.6 1.5,3 0,0 Z" fill="#abb5cf" stroke="#8290b0" stroke-width="0.7"/><circle cx="8" cy="0" r="1.1" fill="#223"/></g>
<g transform="translate(697,152) rotate(63) scale(0.54)"><path d="M7,-3 L11,-6.2 L12,-5 L15,-6 L15.5,-2 Z M8,3 L11,6 L13,4.6 L15,5.6 L15.5,2 Z" fill="#a2accb" opacity="0.8"/><path d="M0,0 C1.5,-3 9,-3.6 17,-1.2 L24,-4.2 L21.5,0 L24,4.2 L17,1.2 C9,3.6 1.5,3 0,0 Z" fill="#abb5cf" stroke="#8290b0" stroke-width="0.7"/><circle cx="8" cy="0" r="1.1" fill="#223"/></g>
<g transform="translate(296,336) rotate(30) scale(0.42)"><path d="M7,-3 L11,-6.2 L12,-5 L15,-6 L15.5,-2 Z M8,3 L11,6 L13,4.6 L15,5.6 L15.5,2 Z" fill="#a2accb" opacity="0.8"/><path d="M0,0 C1.5,-3 9,-3.6 17,-1.2 L24,-4.2 L21.5,0 L24,4.2 L17,1.2 C9,3.6 1.5,3 0,0 Z" fill="#abb5cf" stroke="#8290b0" stroke-width="0.7"/><circle cx="8" cy="0" r="1.1" fill="#223"/></g>
<g transform="translate(522,220) rotate(60) scale(0.50)"><path d="M7,-3 L11,-6.2 L12,-5 L15,-6 L15.5,-2 Z M8,3 L11,6 L13,4.6 L15,5.6 L15.5,2 Z" fill="#a2accb" opacity="0.8"/><path d="M0,0 C1.5,-3 9,-3.6 17,-1.2 L24,-4.2 L21.5,0 L24,4.2 L17,1.2 C9,3.6 1.5,3 0,0 Z" fill="#abb5cf" stroke="#8290b0" stroke-width="0.7"/><circle cx="8" cy="0" r="1.1" fill="#223"/></g>
<g transform="translate(644.3,104.6) scale(1.02,1.20)"><path d="M10.5,-1.5 C11.5,-3.6 12.3,-4.8 13.2,-4.8 C14,-4.8 15.2,-3.6 16.2,-1.5 Z" fill="#ee9040"/><path d="M11,1.5 C11.8,3.2 12.6,4 13.2,4 C13.9,4 14.7,3.2 15.5,1.5 Z" fill="#ee9040"/><path d="M0,-2.6 L2.5,0 L0,2.6 L1.2,2.6 L3.5,0.8 C10,2.6 19,2.8 25,0.3 C21,-2.6 10,-2.8 3.5,-0.8 L1.2,-2.6 Z" fill="#2a7b8b"/><path d="M3.5,0.8 C10,2.6 19,2.8 25,0.3" fill="none" stroke="#8cc4d4" stroke-width="0.6"/><path d="M0.3,-3 L2,-3 L3.6,-0.6 L3.6,0.6 L2,3 L0.3,3 L1.4,0 Z" fill="#1d4c5c"/><circle cx="23" cy="-0.2" r="0.9" fill="#b8d8e4"/></g>
<g transform="translate(627.2,114.6) scale(0.97,1.14)"><path d="M10.5,-1.5 C11.5,-3.6 12.3,-4.8 13.2,-4.8 C14,-4.8 15.2,-3.6 16.2,-1.5 Z" fill="#ee9040"/><path d="M11,1.5 C11.8,3.2 12.6,4 13.2,4 C13.9,4 14.7,3.2 15.5,1.5 Z" fill="#ee9040"/><path d="M0,-2.6 L2.5,0 L0,2.6 L1.2,2.6 L3.5,0.8 C10,2.6 19,2.8 25,0.3 C21,-2.6 10,-2.8 3.5,-0.8 L1.2,-2.6 Z" fill="#2a7b8b"/><path d="M3.5,0.8 C10,2.6 19,2.8 25,0.3" fill="none" stroke="#8cc4d4" stroke-width="0.6"/><path d="M0.3,-3 L2,-3 L3.6,-0.6 L3.6,0.6 L2,3 L0.3,3 L1.4,0 Z" fill="#1d4c5c"/><circle cx="23" cy="-0.2" r="0.9" fill="#b8d8e4"/></g>
<g transform="translate(638.4,126) scale(1.10,1.29)"><path d="M10.5,-1.5 C11.5,-3.6 12.3,-4.8 13.2,-4.8 C14,-4.8 15.2,-3.6 16.2,-1.5 Z" fill="#ee9040"/><path d="M11,1.5 C11.8,3.2 12.6,4 13.2,4 C13.9,4 14.7,3.2 15.5,1.5 Z" fill="#ee9040"/><path d="M0,-2.6 L2.5,0 L0,2.6 L1.2,2.6 L3.5,0.8 C10,2.6 19,2.8 25,0.3 C21,-2.6 10,-2.8 3.5,-0.8 L1.2,-2.6 Z" fill="#2a7b8b"/><path d="M3.5,0.8 C10,2.6 19,2.8 25,0.3" fill="none" stroke="#8cc4d4" stroke-width="0.6"/><path d="M0.3,-3 L2,-3 L3.6,-0.6 L3.6,0.6 L2,3 L0.3,3 L1.4,0 Z" fill="#1d4c5c"/><circle cx="23" cy="-0.2" r="0.9" fill="#b8d8e4"/></g>
<path d="M531.6,370.4 C536,370.8 540,371.2 543,371 C546,370.6 548,369.8 549.5,368 L552.5,369.6 C557,369.3 562,368.8 567,368 L570.6,362.8 C572.5,364.5 575,366 578,366.8 C585,366.6 592,367.2 598,368.6 C602,369.6 605.5,371.2 606.8,373 C605,374.8 601,375.6 596,376.2 C590,376.8 584,376.9 578,377 L572.2,381.8 L573.6,377.4 C568,377 562,376 556,375.4 C550,375 545,374.8 541.5,374.6 L540.2,375.8 L538.6,373.4 C536,372.6 533.5,371.6 531.6,370.4 Z" fill="#b2c4cc" stroke="#9cb0ba" stroke-width="0.5"/>
<path d="M556,372.5 C570,373.8 590,374.6 604,373.6 C600,375.4 590,376.6 578,376.8 C568,376.6 560,375.6 556,372.5 Z" fill="#c8d6dc" opacity="0.8"/>
<circle cx="593.4" cy="372.6" r="0.9" fill="#2e3a44"/><path d="M585.5,371.5 L586.5,375" stroke="#8898a4" stroke-width="0.8"/>
<line x1="113" y1="200.2" x2="91.0" y2="177.3" stroke="#111" stroke-width="1.6"/><path d="M86.2,172.2 L93.6,174.8 L88.5,179.7 Z" fill="#111"/>
<line x1="179.4" y1="162.4" x2="165.7" y2="153.6" stroke="#111" stroke-width="1.6"/><path d="M159.8,149.8 L167.6,150.6 L163.8,156.5 Z" fill="#111"/>
<line x1="445.8" y1="131.4" x2="461.0" y2="118.0" stroke="#111" stroke-width="1.6"/><path d="M466.3,113.4 L463.3,120.6 L458.7,115.4 Z" fill="#111"/>
<line x1="430.3" y1="185.4" x2="442.9" y2="199.3" stroke="#111" stroke-width="1.6"/><path d="M447.6,204.5 L440.3,201.7 L445.5,197.0 Z" fill="#111"/>
<line x1="458.7" y1="284" x2="438.5" y2="275.5" stroke="#111" stroke-width="1.6"/><path d="M432,272.8 L439.8,272.3 L437.1,278.7 Z" fill="#111"/>
<line x1="122.9" y1="455.9" x2="111.9" y2="435.0" stroke="#111" stroke-width="1.6"/><path d="M108.7,428.8 L115.0,433.4 L108.8,436.6 Z" fill="#111"/>
<text transform="translate(400,141) scale(1,1.09)" font-size="15.3" fill="#1e1e1e">Buoy</text>
<text transform="translate(376,177.1) scale(1,1.09)" font-size="15.3" fill="#1e1e1e">Mainline</text>
<text transform="translate(181,178.6) scale(1,1.09)" font-size="15.3" fill="#1e1e1e">Radio Beacon</text>
<text transform="translate(95,215) scale(1,1.09)" font-size="15.3" fill="#1e1e1e">Marker Buoy</text>
<text transform="translate(467,296) scale(1,1.09)" font-size="15.3" fill="#1e1e1e">Snoods (Branchlines)</text>
<text transform="translate(135,466.5) scale(1,1.09)" font-size="15.3" fill="#1e1e1e">Baited hooks</text>
<text x="268.4" y="48.9" font-size="30.5" fill="#000">Pelagic Longline</text>
<g fill="#8f9fa7"><text x="57" y="23.7" style="font-family:'Liberation Serif',serif;font-weight:bold" font-size="7.6" textLength="78.5" lengthAdjust="spacingAndGlyphs">Australian Government</text><text x="57" y="36.8" style="font-family:'Liberation Serif',serif;font-weight:bold" font-size="6.6" textLength="134" lengthAdjust="spacingAndGlyphs">Australian Fisheries Management Authority</text></g>
<rect x="57" y="27.3" width="134" height="1" fill="#a9c3d1"/>
<g fill="#9db0bb" opacity="0.78"><circle cx="32" cy="11.3" r="1.9"/><path d="M27,14.5 L30,13.2 L32,14.5 L34,13.2 L37,14.5 L38,16 L26,16 Z"/><path d="M25.5,16.5 L39.5,16.5 L39.5,27 C39.5,30.5 36,32.5 32.5,33.5 C29,32.5 25.5,30.5 25.5,27 Z"/><path d="M16,14.5 L17.5,17 L19,14.8 L20,18 C22,19 24,21 25,24 L24,30 L19,31 L15,29 C14,26 14.5,22 16,19 Z"/><path d="M47.5,12.5 C49,12.5 49.5,14 48.5,15 L46.5,17 C48,19 49,22 49.5,25 L50,29 L46,31 L41,30 L40,24 C41,21 43,19 45,17 L46,14 Z"/><path d="M11.5,24 C13,27 16,29.5 20,31 C24,32.5 28,33.5 32.5,34 C37,33.5 41,32.5 45,31 C49,29.5 51.5,27 52.5,24 L52,28 C50.5,31.5 47,34 42,35.5 C38,36.5 35,37 32.5,37 C30,37 26.5,36.5 22.5,35.5 C17.5,34 13.5,31.5 12,28 Z"/><path d="M20,35 L45,35 L44,37.6 L21,37.6 Z"/></g>
<g fill="#c6e6f4" opacity="0.7"><rect x="28.5" y="18" width="1.2" height="10"/><rect x="35" y="18" width="1.2" height="10"/><rect x="26.5" y="21.5" width="12" height="1.1"/><rect x="26.5" y="25.5" width="12" height="1.1"/><circle cx="18" cy="22" r="0.8"/><circle cx="21" cy="26" r="0.7"/><circle cx="45" cy="22" r="0.8"/><circle cx="43" cy="27" r="0.7"/><circle cx="16" cy="29" r="0.6"/><circle cx="24" cy="33" r="0.6"/><circle cx="30" cy="35" r="0.6"/><circle cx="38" cy="34.5" r="0.6"/><circle cx="47" cy="31" r="0.6"/><rect x="22" y="36" width="21" height="0.6"/></g>
</svg>
</body></html>
